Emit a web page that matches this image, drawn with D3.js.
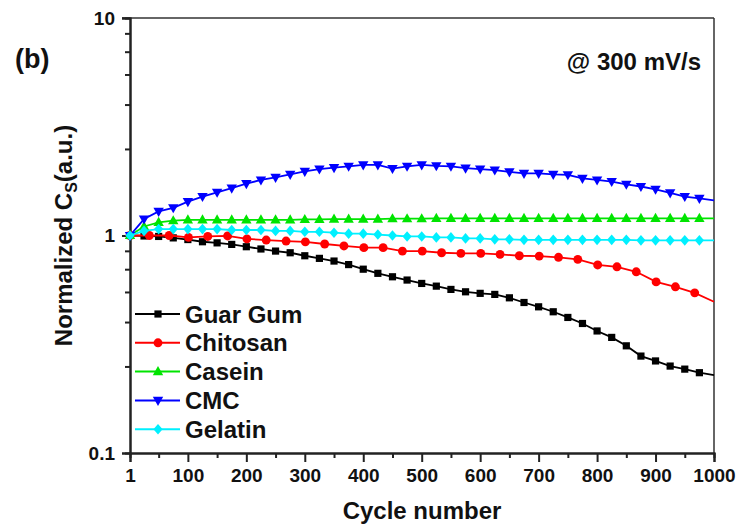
<!DOCTYPE html>
<html>
<head>
<meta charset="utf-8">
<script src="https://cdn.jsdelivr.net/npm/d3@7"></script>
<style>
  body { margin: 0; background: #fff; }
  text { font-family: "Liberation Sans", Arial, sans-serif; font-weight: bold; fill: #111; }
</style>
</head>
<body>
<div id="chart"></div>
<script>

var svgWidth = 739;
var svgHeight = 526;

// plot box in pixels
var margin = { top: 18, right: 25, bottom: 73, left: 130 };
var width = svgWidth - margin.left - margin.right;
var height = svgHeight - margin.top - margin.bottom;

// cycle numbers (most series sampled every 25 cycles)
var cycles = [1, 25, 50, 75, 100, 125, 150, 175, 200, 225, 250, 275, 300, 325, 350, 375, 400,
  425, 450, 475, 500, 525, 550, 575, 600, 625, 650, 675, 700, 725, 750, 775, 800,
  825, 850, 875, 900, 925, 950, 975, 1000];

// chitosan was sampled about every 33 cycles
var chitosanCycles = [1, 34, 68, 101, 134, 168, 201, 234, 268, 301, 334, 367, 401, 434, 467,
  501, 534, 567, 601, 634, 667, 701, 734, 767, 801, 834, 867, 901, 934, 967, 1000];

var guarGum = [1.00, 0.995, 0.99, 0.975, 0.958, 0.936, 0.925, 0.91, 0.888, 0.867, 0.848, 0.833, 0.807,
  0.785, 0.763, 0.735, 0.70, 0.67, 0.646, 0.624, 0.602, 0.585, 0.565, 0.551, 0.542, 0.536,
  0.517, 0.492, 0.470, 0.446, 0.420, 0.394, 0.364, 0.340, 0.311, 0.279, 0.265, 0.251,
  0.243, 0.234, 0.228];

var chitosan = [1.00, 1.00, 1.00, 0.98, 0.99, 0.995, 0.965, 0.953, 0.943, 0.935, 0.914, 0.895,
  0.879, 0.879, 0.848, 0.848, 0.833, 0.828, 0.828, 0.819, 0.807, 0.804, 0.794, 0.777,
  0.732, 0.718, 0.681, 0.612, 0.581, 0.545, 0.496];

var casein = [1.00, 1.10, 1.15, 1.17, 1.18, 1.18, 1.18, 1.18, 1.18, 1.18, 1.18, 1.18, 1.185,
  1.185, 1.19, 1.19, 1.19, 1.19, 1.195, 1.195, 1.195, 1.20, 1.20, 1.20, 1.20, 1.20, 1.20,
  1.20, 1.20, 1.20, 1.20, 1.20, 1.20, 1.20, 1.20, 1.20, 1.20, 1.20, 1.20, 1.20, 1.20];

var cmc = [1.00, 1.19, 1.29, 1.34, 1.43, 1.51, 1.58, 1.65, 1.73, 1.80, 1.85, 1.91, 1.97, 2.02,
  2.05, 2.08, 2.11, 2.11, 2.03, 2.08, 2.11, 2.09, 2.08, 2.04, 2.02, 2.00, 1.96, 1.93, 1.93,
  1.91, 1.90, 1.83, 1.80, 1.77, 1.72, 1.68, 1.63, 1.57, 1.51, 1.48, 1.45];

var gelatin = [1.00, 1.05, 1.07, 1.07, 1.07, 1.07, 1.07, 1.06, 1.06, 1.06, 1.05, 1.05, 1.04,
  1.04, 1.03, 1.02, 1.02, 1.01, 1.00, 0.99, 0.99, 0.98, 0.98, 0.97, 0.97, 0.96, 0.96,
  0.955, 0.955, 0.955, 0.955, 0.955, 0.955, 0.955, 0.955, 0.95, 0.95, 0.95, 0.95, 0.95, 0.95];

var seriesNames = ["Guar Gum", "Chitosan", "Casein", "CMC", "Gelatin"];
var seriesColors = ["#000000", "#ff0000", "#00e400", "#0000ff", "#00f0ff"];
var seriesShapes = ["square", "circle", "triangle", "invtriangle", "diamond"];

var xTicks = [1, 100, 200, 300, 400, 500, 600, 700, 800, 900, 1000];
var xMinorTicks = [50, 150, 250, 350, 450, 550, 650, 750, 850, 950];
var yTicks = [0.1, 1, 10];
var yTickLabels = ["0.1", "1", "10"];
var yMinorTicks = [0.25, 0.4, 0.55, 0.7, 0.85, 2.5, 4, 5.5, 7, 8.5];

var series = [
  { x: cycles, y: guarGum },
  { x: chitosanCycles, y: chitosan },
  { x: cycles, y: casein },
  { x: cycles, y: cmc },
  { x: cycles, y: gelatin }
];

var svg = d3.select("#chart")
  .append("svg")
  .attr("width", svgWidth)
  .attr("height", svgHeight);

var chartGroup = svg.append("g")
  .attr("transform", `translate(${margin.left}, ${margin.top})`);

var xScale = d3.scaleLinear().domain([1, 1000]).range([0, width]);
var yScale = d3.scaleLog().domain([0.1, 10]).range([height, 0]);

// marker path builder
function markerPath(shape) {
  if (shape === "square") return "M-3.6,-3.6H3.6V3.6H-3.6Z";
  if (shape === "circle") return d3.symbol(d3.symbolCircle, 62)();
  if (shape === "triangle") return "M0,-5.5L5.2,3.6H-5.2Z";
  if (shape === "invtriangle") return "M0,5.5L5.2,-3.6H-5.2Z";
  return "M0,-5.3L4.6,0L0,5.3L-4.6,0Z";
}

// frame: top and right
chartGroup.append("line")
  .attr("x1", -8).attr("x2", width).attr("y1", 0).attr("y2", 0)
  .attr("stroke", "#333").attr("stroke-width", 1.5);
chartGroup.append("line")
  .attr("x1", width).attr("x2", width).attr("y1", 0).attr("y2", height)
  .attr("stroke", "#333").attr("stroke-width", 1.5);

// x axis
var bottomAxis = d3.axisBottom(xScale)
  .tickValues(xTicks)
  .tickSize(9)
  .tickPadding(7)
  .tickFormat(d3.format("d"));

var xAxis = chartGroup.append("g")
  .attr("transform", `translate(0, ${height})`)
  .call(bottomAxis);

xAxis.selectAll("text").attr("font-size", 19).attr("dy", "0.71em");

chartGroup.append("g")
  .attr("transform", `translate(0, ${height})`)
  .call(d3.axisBottom(xScale).tickValues(xMinorTicks).tickSize(5).tickFormat(""));

// y axis
var leftAxis = d3.axisLeft(yScale)
  .tickValues(yTicks)
  .tickSize(8)
  .tickPadding(7)
  .tickFormat((d, i) => yTickLabels[i]);

var yAxis = chartGroup.append("g").call(leftAxis);
yAxis.selectAll("text").attr("font-size", 19);

chartGroup.append("g")
  .call(d3.axisLeft(yScale).tickValues(yMinorTicks).tickSize(5).tickFormat(""));

chartGroup.selectAll(".domain, .tick line")
  .attr("stroke", "#222")
  .attr("stroke-width", 2);

// series lines and markers
var line = d3.line()
  .x(d => xScale(d[0]))
  .y(d => yScale(d[1]));

series.forEach(function(s, i) {
  var pts = s.x.map((c, j) => [c, s.y[j]]);

  chartGroup.append("path")
    .datum(pts)
    .attr("d", line)
    .attr("fill", "none")
    .attr("stroke", seriesColors[i])
    .attr("stroke-width", 1.8);

  chartGroup.selectAll(".mk" + i)
    .data(pts.slice(0, -1))
    .enter()
    .append("path")
    .attr("class", "mk" + i)
    .attr("d", markerPath(seriesShapes[i]))
    .attr("transform", d => `translate(${xScale(d[0])}, ${yScale(d[1])})`)
    .attr("fill", seriesColors[i]);
});

// legend
var legend = svg.append("g");
seriesNames.forEach(function(name, i) {
  var ly = 314 + i * 28.8;
  legend.append("line")
    .attr("x1", 135).attr("x2", 180).attr("y1", ly).attr("y2", ly)
    .attr("stroke", seriesColors[i]).attr("stroke-width", 2);
  legend.append("path")
    .attr("d", markerPath(seriesShapes[i]))
    .attr("transform", `translate(158, ${ly})`)
    .attr("fill", seriesColors[i]);
  legend.append("text")
    .attr("x", 185)
    .attr("y", ly)
    .attr("dy", "0.36em")
    .attr("font-size", 24)
    .text(name);
});

// axis titles and annotations
svg.append("text")
  .attr("x", margin.left + width / 2)
  .attr("y", 519)
  .attr("text-anchor", "middle")
  .attr("font-size", 24)
  .text("Cycle number");

var yTitle = svg.append("text")
  .attr("transform", `translate(72, ${margin.top + height / 2}) rotate(-90)`)
  .attr("text-anchor", "middle")
  .attr("font-size", 24);
yTitle.append("tspan").text("Normalized C");
yTitle.append("tspan").attr("font-size", 16).attr("dy", 5).text("S");
yTitle.append("tspan").attr("dy", -5).text("(a.u.)");

svg.append("text")
  .attr("x", 15)
  .attr("y", 68)
  .attr("font-size", 27)
  .text("(b)");

svg.append("text")
  .attr("x", 701)
  .attr("y", 70)
  .attr("text-anchor", "end")
  .attr("font-size", 24)
  .text("@ 300 mV/s");

</script>
</body>
</html>
